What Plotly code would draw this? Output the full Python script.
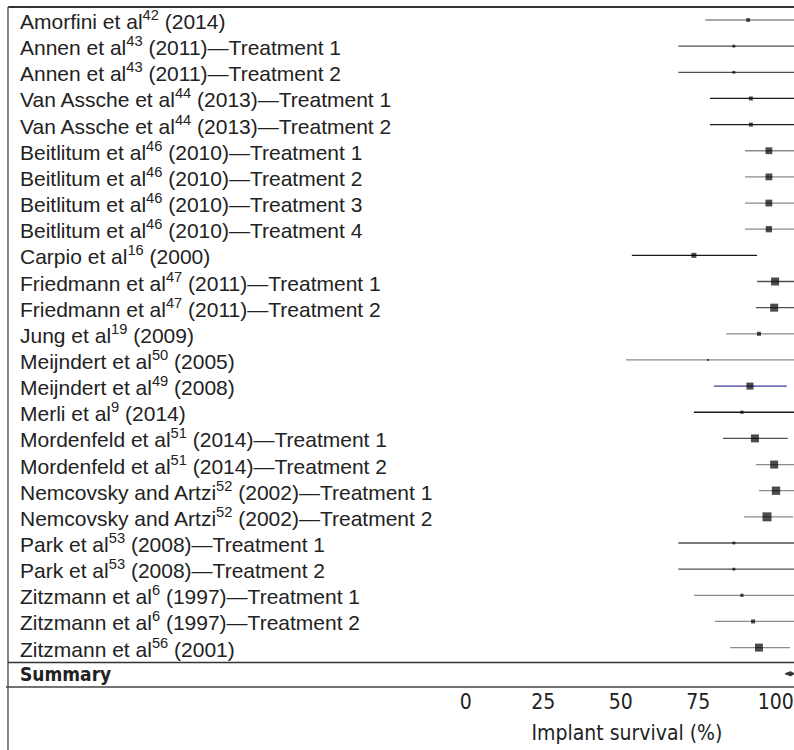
import plotly.graph_objects as go

# ---------------- data ----------------
studies = [
    "Amorfini et al<sup>42</sup> (2014)",
    "Annen et al<sup>43</sup> (2011)—Treatment 1",
    "Annen et al<sup>43</sup> (2011)—Treatment 2",
    "Van Assche et al<sup>44</sup> (2013)—Treatment 1",
    "Van Assche et al<sup>44</sup> (2013)—Treatment 2",
    "Beitlitum et al<sup>46</sup> (2010)—Treatment 1",
    "Beitlitum et al<sup>46</sup> (2010)—Treatment 2",
    "Beitlitum et al<sup>46</sup> (2010)—Treatment 3",
    "Beitlitum et al<sup>46</sup> (2010)—Treatment 4",
    "Carpio et al<sup>16</sup> (2000)",
    "Friedmann et al<sup>47</sup> (2011)—Treatment 1",
    "Friedmann et al<sup>47</sup> (2011)—Treatment 2",
    "Jung et al<sup>19</sup> (2009)",
    "Meijndert et al<sup>50</sup> (2005)",
    "Meijndert et al<sup>49</sup> (2008)",
    "Merli et al<sup>9</sup> (2014)",
    "Mordenfeld et al<sup>51</sup> (2014)—Treatment 1",
    "Mordenfeld et al<sup>51</sup> (2014)—Treatment 2",
    "Nemcovsky and Artzi<sup>52</sup> (2002)—Treatment 1",
    "Nemcovsky and Artzi<sup>52</sup> (2002)—Treatment 2",
    "Park et al<sup>53</sup> (2008)—Treatment 1",
    "Park et al<sup>53</sup> (2008)—Treatment 2",
    "Zitzmann et al<sup>6</sup> (1997)—Treatment 1",
    "Zitzmann et al<sup>6</sup> (1997)—Treatment 2",
    "Zitzmann et al<sup>56</sup> (2001)",
]
estimate = [91.1, 86.5, 86.5, 92.0, 92.0, 97.8, 97.8, 97.8, 97.8, 73.6,
            99.8, 99.5, 94.6, 78.2, 91.7, 89.1, 93.3, 99.5, 100.1, 97.2,
            86.5, 86.5, 89.1, 92.7, 94.6]
lower = [77.3, 68.6, 68.6, 78.8, 78.8, 90.1, 90.1, 90.1, 90.1, 53.6,
         94.0, 93.6, 84.0, 51.7, 80.1, 73.6, 83.0, 93.6, 94.6, 89.8,
         68.6, 68.6, 73.6, 80.4, 85.3]
upper = [106, 106, 106, 106, 106, 106, 106, 106, 106, 94.0,
         106, 106, 106, 106, 103.6, 106, 103.9, 106, 106, 105.6,
         106, 106, 106, 106, 104.6]
weight = [1.2, 0.7, 0.7, 1.4, 1.4, 4.0, 4.0, 4.0, 3.4, 2.2,
          5.5, 5.5, 1.4, 0.3, 4.3, 0.9, 5.5, 5.5, 6.0, 7.0,
          0.7, 0.7, 0.9, 1.4, 5.5]

summary_label = "Summary"
summary_est = 104.8
summary_lower = 103.0
summary_upper = 106.0

tick_values = [0, 25, 50, 75, 100]
tick_labels = ["0", "25", "50", "75", "100"]
x_title = "Implant survival (%)"

# ---------------- styles ----------------
line_style = ["grey", "dark", "dark", "black", "black", "grey", "grey", "grey", "grey", "black",
              "dark", "dark", "grey", "grey", "blue", "black", "dark", "grey", "grey", "grey",
              "dark", "dark", "grey", "grey", "grey"]
style_colors = {"grey": "#8c8c8c", "dark": "#505050", "black": "#1a1a1a", "blue": "#3c3c9c"}

W, H = 794, 750
PLOT_BOTTOM = 687
DOM_LEFT = 460.0          # pixel where the x-axis domain begins
PX_ZERO, PX_PER_UNIT = 465.7, 3.1
x_range = [(DOM_LEFT - PX_ZERO) / PX_PER_UNIT, (W - PX_ZERO) / PX_PER_UNIT]
row_y = list(range(len(studies)))
summary_y = len(studies)

LABEL_FONT = "Liberation Sans, Arial, sans-serif"
NARROW_FONT = "Liberation Sans Narrow, DejaVu Sans Condensed, sans-serif"


def px_x(px):
    return px / W


def px_y(px):
    return (PLOT_BOTTOM - px) / PLOT_BOTTOM


fig = go.Figure()

# CI lines grouped by colour
for key, col in style_colors.items():
    xs, ys = [], []
    for i, s in enumerate(line_style):
        if s == key:
            xs += [lower[i], upper[i], None]
            ys += [row_y[i], row_y[i], None]
    if xs:
        fig.add_trace(go.Scatter(x=xs, y=ys, mode="lines",
                                 line=dict(color=col, width=1.3),
                                 hoverinfo="skip", showlegend=False))

# point estimates
fig.add_trace(go.Scatter(
    x=estimate, y=row_y, mode="markers",
    marker=dict(symbol="square", color="#000000",
                size=[3.4 * w ** 0.5 for w in weight], line=dict(width=0)),
    showlegend=False))

# summary diamond
h = 0.08
fig.add_trace(go.Scatter(
    x=[summary_lower, summary_est, summary_upper, summary_est, summary_lower],
    y=[summary_y, summary_y - h, summary_y, summary_y + h, summary_y],
    mode="lines", fill="toself", fillcolor="#333333",
    line=dict(color="#333333", width=1), showlegend=False))

# study labels
for i, lab in enumerate(studies):
    fig.add_annotation(x=px_x(18), xref="paper", y=row_y[i], yref="y",
                       text=lab, showarrow=False, xanchor="left", yanchor="middle",
                       font=dict(family=LABEL_FONT, size=21, color="#222222"))
fig.add_annotation(x=px_x(18), xref="paper", y=summary_y, yref="y",
                   text="<b>" + summary_label + "</b>", showarrow=False,
                   xanchor="left", yanchor="middle",
                   font=dict(family=NARROW_FONT, size=19, color="#222222"))

shapes = [
    dict(type="line", xref="paper", yref="paper", x0=px_x(8), x1=1, y0=px_y(7), y1=px_y(7),
         line=dict(color="#333333", width=2)),
    dict(type="line", xref="paper", yref="paper", x0=px_x(8), x1=px_x(8), y0=px_y(7), y1=px_y(H),
         line=dict(color="#666666", width=1.6)),
    dict(type="line", xref="paper", yref="paper", x0=px_x(8), x1=1, y0=px_y(662.5), y1=px_y(662.5),
         line=dict(color="#333333", width=1.5)),
    dict(type="line", xref="paper", yref="paper", x0=px_x(6), x1=1, y0=px_y(687), y1=px_y(687),
         line=dict(color="#444444", width=1.5)),
]

y0_px, step = 20.0, 26.15
y_top = -y0_px / step
y_bot = (PLOT_BOTTOM - y0_px) / step

fig.update_layout(
    width=W, height=H,
    margin=dict(l=0, r=0, t=0, b=H - PLOT_BOTTOM, pad=0),
    plot_bgcolor="white", paper_bgcolor="white",
    shapes=shapes,
    xaxis=dict(domain=[DOM_LEFT / W, 1], range=x_range,
               tickvals=tick_values, ticktext=tick_labels,
               showgrid=False, zeroline=False, showline=False, ticks="",
               tickfont=dict(family=NARROW_FONT, size=21, color="#222222"),
               title=dict(text=x_title, standoff=12,
                          font=dict(family=NARROW_FONT, size=21, color="#222222")),
               fixedrange=True),
    yaxis=dict(range=[y_bot, y_top], showgrid=False, zeroline=False, showline=False,
               showticklabels=False, ticks="", fixedrange=True),
)

fig.write_html("out.html", config={"displayModeBar": False},
               post_script="document.body.style.margin='0px';")
